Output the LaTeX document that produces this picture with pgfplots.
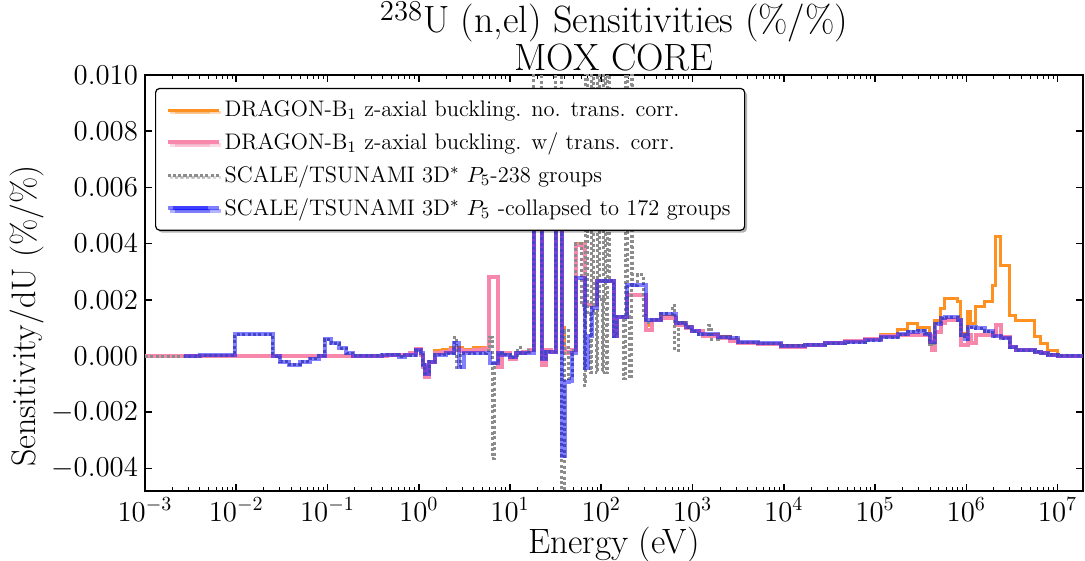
\documentclass[border=0pt]{standalone}
\usepackage{pgfplots}
\pgfplotsset{compat=1.18}
\usetikzlibrary{shadows}
\definecolor{cOrange}{RGB}{255,145,35}
\definecolor{cPink}{RGB}{248,135,172}
\definecolor{cGray}{RGB}{140,140,140}
\begin{document}
\begin{tikzpicture}
\begin{axis}[
  scale only axis, width=469pt, height=208pt,
  xmode=log, xmin=1e-3, xmax=1.9e7, ymin=-0.0048, ymax=0.010,
  xtick={1e-3,1e-2,1e-1,1,1e1,1e2,1e3,1e4,1e5,1e6,1e7},
  ytick={-0.004,-0.002,0,0.002,0.004,0.006,0.008,0.010},
  yticklabels={$-0.004$,$-0.002$,$0.000$,$0.002$,$0.004$,$0.006$,$0.008$,$0.010$},
  scaled y ticks=false,
  tick align=inside, major tick length=3.5pt, minor tick length=2pt,
  every tick/.append style={black, line width=0.8pt},
  every minor tick/.append style={line width=0.5pt},
  axis line style={line width=0.8pt},
  tick label style={font=\fontsize{14}{16}\selectfont},
  xlabel={Energy (eV)}, ylabel={Sensitivity/dU (\%/\%)},
  xlabel style={font=\fontsize{17.6}{18}\selectfont, yshift=3.8pt},
  ylabel style={font=\fontsize{17}{18}\selectfont, at={(ticklabel cs:0.42)}, yshift=-3pt},
  title={$^{238}$U (n,el) Sensitivities (\%/\%)\\MOX CORE},
  title style={font=\fontsize{19}{16}\selectfont, align=center, at={(0.5,1)}, anchor=south, inner sep=0pt, yshift=-4.5pt},
  legend style={at={(0.0107,0.969)}, anchor=north west, font=\fontsize{11.25}{13}\selectfont,
    draw=black, line width=0.6pt, rounded corners=2pt, fill=white, inner xsep=5pt, inner ysep=4pt,
    row sep=2.5pt, drop shadow={shadow xshift=1.2pt, shadow yshift=-1.2pt, fill=black, opacity=0.3}},
  legend cell align=left,
  legend image code/.code={\draw[#1] (2.5pt,0pt) -- (20pt,0pt); \path (0pt,0pt) -- (25.5pt,0pt);},
]
\addplot[const plot, color=cOrange, line width=1.5pt] coordinates {
(0.001,0) (0.45,0.00005) (0.8,0.0001) (0.93,0.00025) (1.05,0.00005) (1.1,-0.0004) (1.17,-0.0007) (1.3,-0.0002) (1.5,0.0002) (1.8,0.00025) (2.2,0.0003) (3.0,0.00025) (4.0,0.0003) (5.0,0.0003) (5.9,0.0028) (7.4,-0.0004) (8.2,0.0001) (10,-0.0001) (11.5,0.0001) (14,0.00015) (16,0.0002) (18.3,0.007) (22.4,-0.0003) (24.7,0.0002) (28,0.00015) (31.8,0.007) (37,0.001) (40,0.0001) (44,0.00015) (48,0.0002) (52.6,0.0040) (66,0.0018) (89.4,0.00267) (137,0.0007) (148,0.0014) (190,0.0022) (306,0.0011) (356,0.0013) (447,0.0014) (652,0.0012) (840,0.00105) (975,0.0009) (1300,0.00075) (1924,0.00068) (2600,0.00058) (3184,0.00048) (5264,0.00044) (9390,0.00036) (17200,0.0004) (28400,0.00046) (47000,0.00053) (77800,0.00062) (116000,0.00078) (178000,0.00095) (229000,0.00117) (295000,0.00103) (399000,0.0005) (453000,0.00127) (526000,0.00169) (582000,0.00206) (807000,0.00193) (871000,0.00081) (964000,0.00068) (1.04e6,0.00157) (1.12e6,0.00116) (1.27e6,0.00175) (1.59e6,0.00193) (1.95e6,0.00252) (2.10e6,0.00424) (2.38e6,0.00323) (2.99e6,0.00145) (3.47e6,0.00127) (5.61e6,0.00068) (6.52e6,0.00044) (7.78e6,0.0002) (1e7,0.00003) (1.9e7,0.00003)
};
\addlegendentry{DRAGON-B$_1$ z-axial buckling. no. trans. corr.}
\addplot[const plot, color=cPink, line width=2pt] coordinates {
(0.001,0) (0.45,0.00005) (0.8,0.0001) (0.93,0.00025) (1.05,0.00005) (1.1,-0.0004) (1.17,-0.00076) (1.3,-0.0002) (1.5,0.0001) (1.8,0.00015) (2.2,0.0002) (3.0,0.00018) (4.0,0.0002) (5.0,0.00025) (5.9,0.0028) (7.4,-0.0004) (8.2,0.0001) (10,-0.0001) (11.5,0.0001) (14,0.00015) (16,0.0002) (18.3,0.007) (22.4,-0.00033) (24.7,0.0002) (28,0.00015) (31.8,0.007) (37,0.0003) (40,0.0001) (44,0.00015) (48,0.0002) (52.6,0.00395) (66,0.0018) (89.4,0.00267) (137,0.0007) (148,0.0014) (190,0.00216) (306,0.00092) (356,0.00127) (447,0.00134) (652,0.0011) (840,0.001) (975,0.00088) (1300,0.0007) (1924,0.00065) (2600,0.00055) (3184,0.00046) (5264,0.00042) (9390,0.00034) (17200,0.0004) (28400,0.00045) (47000,0.00052) (77800,0.0006) (116000,0.0007) (178000,0.00075) (295000,0.00075) (399000,0.0007) (420000,0.0002) (453000,0.00086) (526000,0.00116) (582000,0.00127) (871000,0.00038) (1.04e6,0.00074) (1.12e6,0.00045) (1.27e6,0.00074) (2.10e6,0.0011) (2.38e6,0.00067) (2.99e6,0.00032) (3.47e6,0.0002) (5.61e6,0.00015) (6.52e6,0.0001) (7.78e6,0.00005) (1e7,0.00002) (1.9e7,0.00002)
};
\addlegendentry{DRAGON-B$_1$ z-axial buckling. w/ trans. corr.}
\addplot[const plot, color=cGray, line width=1.5pt, dash pattern=on 1.5pt off 1.2pt] coordinates {
(0.001,0) (0.0027,0) (0.004,0.00003) (0.00964,0.00077) (0.0251,0) (0.03,-0.0002) (0.038,-0.0003) (0.05,-0.0002) (0.065,-0.0001) (0.08,0.00001) (0.0927,0.0006) (0.11,0.00045) (0.135,0.00027) (0.16,0.0001) (0.19,0.00002) (0.4,0.00005) (0.6,-0.00003) (0.7,0.00003) (0.93,0.0002) (1.05,0.0001) (1.1,-0.0003) (1.17,-0.00062) (1.3,-0.0002) (1.5,0.00005) (2.0,0.0001) (2.44,0.00067) (2.6,-0.0004) (2.9,0.0001) (5.5,0.0002) (6.0,0.00067) (6.4,-0.00365) (6.8,-0.00026) (7.4,0.0001) (8.2,0.00005) (10,-0.00005) (12,0.0003) (13,0.0001) (16,0.0002) (18.3,0.015) (22.4,-0.0001) (24.7,0.00015) (31.8,0.015) (37,-0.006) (39.9,0.0009) (44,-0.0008) (48,0.0002) (52.6,0.004) (60,0.0018) (66,-0.00105) (67.8,0.015) (70,0.0015) (76,-0.00058) (79,0.015) (82,0.0015) (88,-0.0006) (91,0.015) (95,0.002) (102,-0.0006) (105,0.015) (110,0.002) (114,-0.0006) (118,0.015) (122,0.0027) (137,0.0007) (148,0.0014) (176,-0.0008) (185,0.015) (195,0.0014) (205,-0.0008) (212,0.015) (220,0.0025) (250,0.0029) (290,0.00145) (306,0.0012) (356,0.0013) (447,0.0015) (600,0.0018) (640,0.0002) (700,0.0012) (840,0.00103) (975,0.00088) (1164,0.00077) (1500,0.0011) (1600,0.0006) (1924,0.00067) (2600,0.00065) (3184,0.00049) (5264,0.00045) (9390,0.00036) (17200,0.0004) (28400,0.00045) (47000,0.0005) (77800,0.00056) (116000,0.00067) (178000,0.00077) (229000,0.00086) (295000,0.0009) (350000,0.0008) (399000,0.0004) (453000,0.00115) (526000,0.00134) (582000,0.00139) (807000,0.00127) (871000,0.00074) (964000,0.0006) (1.04e6,0.00103) (1.27e6,0.00099) (1.59e6,0.00088) (1.95e6,0.0007) (2.38e6,0.00063) (2.99e6,0.00032) (3.47e6,0.0002) (5.61e6,0.00015) (6.52e6,0.0001) (7.78e6,0.00005) (1e7,0.00002) (1.9e7,0.00002)
};
\addlegendentry{SCALE/TSUNAMI 3D$^*$ $P_5$-238 groups}
\addplot[const plot, color=blue, opacity=0.5, line width=2pt] coordinates {
(0.0027,0) (0.004,0.00003) (0.00964,0.00077) (0.0251,0) (0.03,-0.0002) (0.038,-0.0003) (0.05,-0.0002) (0.065,-0.0001) (0.08,0.00001) (0.0927,0.0006) (0.11,0.00045) (0.135,0.00027) (0.16,0.0001) (0.19,0.00002) (0.4,0.00005) (0.6,-0.00003) (0.7,0.00003) (0.93,0.0002) (1.05,0.0001) (1.1,-0.0003) (1.17,-0.00062) (1.3,-0.0002) (1.5,0.00005) (2.0,0.0001) (2.44,0.00045) (2.77,-0.0004) (3.1,0.0001) (5.89,0.0001) (6.04,-0.00026) (7.4,0.0001) (8.2,0.00005) (10,-0.00005) (11.5,0.0001) (14,0.00012) (18.3,0.007) (22.4,-0.0001) (24.7,0.00015) (31.8,0.007) (37,-0.00354) (39.9,-0.00094) (44.2,-0.0009) (48,0.0001) (52.6,0.00277) (66,-0.00044) (72,0.0007) (78.8,0.0017) (89.4,0.00267) (137,0.0007) (148,0.0014) (190,0.00252) (306,0.00127) (447,0.0015) (652,0.00116) (840,0.00103) (975,0.00088) (1164,0.00077) (1924,0.00067) (2600,0.00065) (3184,0.00049) (5264,0.00045) (9390,0.00036) (17200,0.0004) (28400,0.00045) (47000,0.0005) (77800,0.00056) (116000,0.00067) (178000,0.00077) (229000,0.00086) (295000,0.0009) (350000,0.0008) (399000,0.0005) (453000,0.00115) (526000,0.00134) (582000,0.00139) (807000,0.00127) (871000,0.00074) (964000,0.0006) (1.04e6,0.00103) (1.27e6,0.00099) (1.59e6,0.00088) (1.95e6,0.0007) (2.38e6,0.00063) (2.99e6,0.00032) (3.47e6,0.0002) (5.61e6,0.00015) (6.52e6,0.0001) (7.78e6,0.00005) (1e7,0.00002) (1.9e7,0.00002)
};
\addlegendentry{SCALE/TSUNAMI 3D$^*$ $P_5$ -collapsed to 172 groups}
\end{axis}
\pgfresetboundingbox
\path[use as bounding box] ([xshift=-72.5pt,yshift=-35pt]current axis.south west) rectangle ([xshift=1pt,yshift=37.5pt]current axis.north east);
\end{tikzpicture}
\end{document}
